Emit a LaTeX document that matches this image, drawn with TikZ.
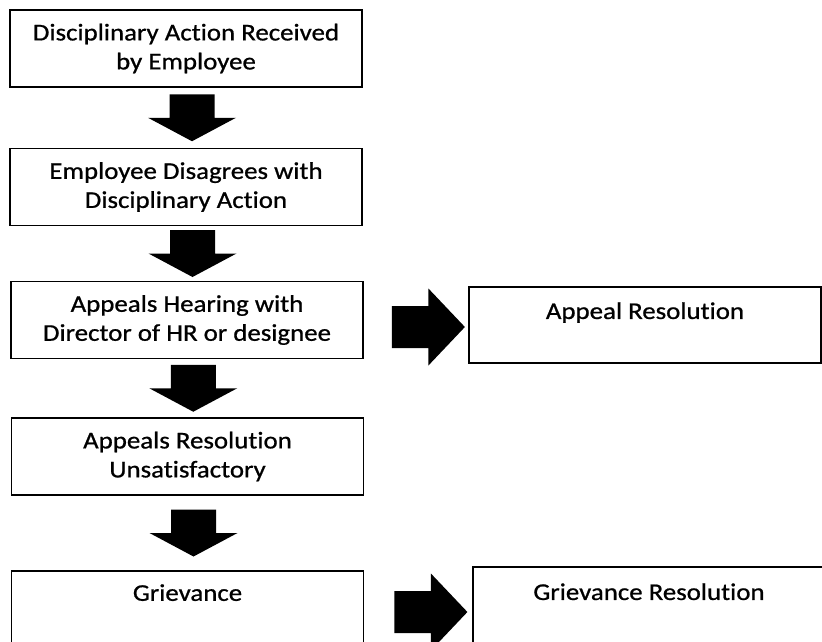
\documentclass[tikz,border=0pt]{standalone}
\usepackage{fontspec}
\setmainfont{Carlito}[Ligatures=NoCommon, FakeStretch=1.12, FakeBold=0.8]
\usetikzlibrary{calc}
\tikzset{
  stepbox/.style={draw, line width=1.8pt, minimum width=352pt, minimum height=77pt,
    align=center, inner sep=0pt, font=\fontsize{24}{29}\selectfont},
  boxtext/.style={anchor=north, inner sep=0pt, font=\fontsize{24}{29}\selectfont},
  downarrow/.pic={\fill (-22.5,-23.5) -- (22.5,-23.5) -- (22.5,0) -- (44,0) -- (0,23.5) -- (-44,0) -- (-22.5,0) -- cycle;},
  rightarrow/.pic={\fill (-36.5,-21) -- (0,-21) -- (0,-38.5) -- (36.5,0) -- (0,38.5) -- (0,21) -- (-36.5,21) -- cycle;}
}
\begin{document}
\begin{tikzpicture}[x=1pt, y=-1pt]
\clip (0,0) rectangle (822,642);
% main column
\node[stepbox] (recv) at (186,48.5) {Disciplinary Action Received\\by Employee};
\node[stepbox] (disagree) at (186,187) {Employee Disagrees with\\Disciplinary Action};
\node[stepbox] (hearing) at (187,320) {Appeals Hearing with\\Director of HR or designee};
\node[stepbox] (unsat) at (187.5,456.5) {Appeals Resolution\\Unsatisfactory};
\node[stepbox] (griev) at (187.5,609.5) {};
\node[boxtext] (grievtxt) at ([yshift=-14pt]griev.north) {Grievance};
% right column
\node[stepbox, minimum height=76pt] (appres) at (645,325) {};
\node[boxtext] (apprestxt) at ([yshift=-16pt]appres.north) {Appeal Resolution};
\node[stepbox] (grievres) at (649,605.5) {};
\node[boxtext] (grievrestxt) at ([yshift=-17pt]grievres.north) {Grievance Resolution};
% block arrows
\pic at ($(recv.south)!0.5!(disagree.north)+(6,0)$) {downarrow};
\pic at ($(disagree.south)!0.5!(hearing.north)+(6,0)$) {downarrow};
\pic at ($(hearing.south)!0.5!(unsat.north)+(6,0)$) {downarrow};
\pic at ($(unsat.south)!0.5!(griev.north)+(6,0)$) {downarrow};
\pic at ($(hearing.east)+(64.5,7)$) {rightarrow};
\pic at ($(griev.east)+(66.5,2.5)$) {rightarrow};
\end{tikzpicture}
\end{document}
